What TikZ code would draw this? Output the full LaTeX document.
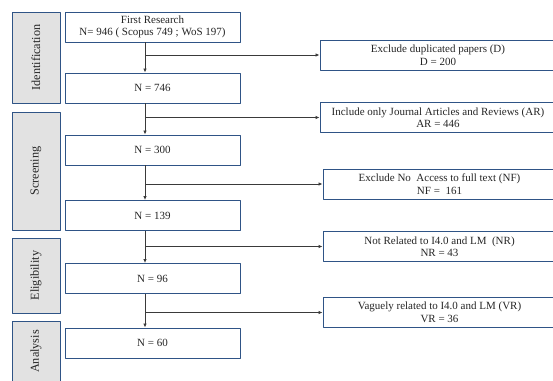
\documentclass[tikz,border=0pt]{standalone}
\usepackage{fontspec}
\setmainfont{Liberation Serif}
\usetikzlibrary{arrows.meta}
\definecolor{frame}{HTML}{2F5486}
\definecolor{phasefill}{HTML}{E2E2E2}
\definecolor{wire}{HTML}{3A3A3A}
\begin{document}
\begin{tikzpicture}[x=1pt,y=-1pt,line join=round,
  box/.style={draw=frame,line width=0.95pt,fill=white,text=black!85,minimum width=175pt,
    minimum height=30pt,inner sep=0pt,align=center,font=\fontsize{11}{12.5}\selectfont},
  exbox/.style={box,minimum width=236pt},
  phase/.style={draw=frame,line width=0.95pt,fill=phasefill,text=black!85,rotate=90,
    minimum height=48pt,inner sep=0pt,font=\fontsize{12.2}{14}\selectfont},
  flow/.style={draw=wire,line width=0.9pt,-{Latex[length=4pt,width=3.5pt]}}]
  \clip (0,0) rectangle (553,380);
  \node[phase,minimum width=91pt] (ident) at (36,57.5) {Identification};
  \node[phase,minimum width=118pt] (screen) at (36,171) {Screening};
  \node[phase,minimum width=75pt] (elig) at (36,275.5) {Eligibility};
  \node[phase,minimum width=61pt] (anal) at (36,351.5) {Analysis};
  \node[box] (first) at (152.5,27) {First Research\\N= 946 ( Scopus 749 ; WoS 197)};
  \node[box] (n746) at (152.5,88) {N = 746};
  \node[box] (n300) at (152.5,150) {N = 300};
  \node[box] (n139) at (152.5,215.5) {N = 139};
  \node[box] (n96) at (152.5,278.5) {N = 96};
  \node[box] (n60) at (152.5,343) {N = 60};
  \node[exbox] (dup) at (438,55) {Exclude duplicated papers (D)\\D = 200};
  \node[exbox] (ar) at (438,117.5) {Include only Journal Articles and Reviews (AR)\\AR = 446};
  \node[exbox,minimum width=233pt] (nf) at (439.5,184) {Exclude No\ \ Access to full text (NF)\\NF =\ \ 161};
  \node[exbox,minimum width=233pt] (nr) at (439.5,246.5) {Not Related to I4.0 and LM\ \ (NR)\\NR = 43};
  \node[exbox,minimum width=233pt] (vr) at (439.5,312.5) {Vaguely related to I4.0 and LM (VR)\\VR = 36};
  \coordinate (spine) at (145,0);
  \draw[flow] (first.south -| spine) -- (n746.north -| spine);
  \draw[flow] (spine |- dup.west) -- (dup.west);
  \draw[flow] (n746.south -| spine) -- (n300.north -| spine);
  \draw[flow] (spine |- ar.west) -- (ar.west);
  \draw[flow] (n300.south -| spine) -- (n139.north -| spine);
  \draw[flow] (spine |- nf.west) -- (nf.west);
  \draw[flow] (n139.south -| spine) -- (n96.north -| spine);
  \draw[flow] (spine |- nr.west) -- (nr.west);
  \draw[flow] (n96.south -| spine) -- (n60.north -| spine);
  \draw[flow] (spine |- vr.west) -- (vr.west);
\end{tikzpicture}
\end{document}
